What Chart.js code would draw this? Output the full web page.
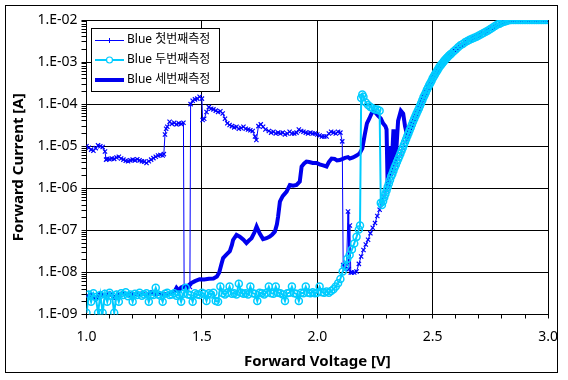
<!DOCTYPE html>
<html lang="ko">

<head>
    <meta charset="UTF-8">
    <title>Blue LED I-V</title>
    <script src="https://cdn.jsdelivr.net/npm/chart.js"></script>
    <style>
        body {
            margin: 0;
            background-color: #fff;
        }

        #wrap {
            width: 568px;
            height: 380px;
        }
    </style>
</head>

<body>
    <div id="wrap"><canvas id="ivChart" width="568" height="380"></canvas></div>

    <script>
        // 시리즈 이름
        const seriesNames = ['Blue 첫번째측정', 'Blue 두번째측정', 'Blue 세번째측정'];

        // 축 눈금 라벨
        const xMajorValues = [1.0, 1.5, 2.0, 2.5, 3.0];
        const xTickLabels = ['1.0', '1.5', '2.0', '2.5', '3.0'];
        const yDecades = [1e-9, 1e-8, 1e-7, 1e-6, 1e-5, 1e-4, 1e-3, 1e-2];
        const yTickLabels = ['1.E-09', '1.E-08', '1.E-07', '1.E-06', '1.E-05', '1.E-04', '1.E-03', '1.E-02'];

        // 첫번째 측정 (V, A)
        const s1V = [
            1.00, 1.01, 1.02, 1.03, 1.04, 1.05, 1.06, 1.07, 1.08, 1.085,
            1.09, 1.10, 1.11, 1.12, 1.13, 1.14, 1.15, 1.16, 1.17, 1.18,
            1.19, 1.20, 1.21, 1.22, 1.23, 1.24, 1.25, 1.26, 1.27, 1.28,
            1.29, 1.30, 1.31, 1.32, 1.33, 1.335, 1.34, 1.345, 1.35, 1.36,
            1.37, 1.38, 1.39, 1.40, 1.41, 1.42, 1.423, 1.435, 1.448, 1.451,
            1.46, 1.47, 1.48, 1.49, 1.50, 1.503, 1.51, 1.52, 1.53, 1.54,
            1.55, 1.56, 1.57, 1.58, 1.59, 1.60, 1.61, 1.62, 1.63, 1.64,
            1.65, 1.66, 1.67, 1.68, 1.69, 1.70, 1.71, 1.72, 1.73, 1.736,
            1.745, 1.755, 1.765, 1.775, 1.79, 1.80, 1.81, 1.82, 1.83, 1.84,
            1.85, 1.86, 1.87, 1.88, 1.89, 1.90, 1.91, 1.92, 1.93, 1.94,
            1.95, 1.96, 1.97, 1.98, 1.99, 2.00, 2.01, 2.02, 2.03, 2.04,
            2.05, 2.06, 2.07, 2.08, 2.09, 2.10, 2.108, 2.112, 2.12, 2.127,
            2.133, 2.136, 2.141, 2.145, 2.15, 2.16, 2.17, 2.18, 2.19, 2.20,
            2.21, 2.22, 2.23, 2.24, 2.25, 2.26, 2.27, 2.28, 2.29, 2.30,
            2.31, 2.32, 2.33, 2.34, 2.35, 2.36, 2.37, 2.38, 2.39, 2.40,
            2.41, 2.42, 2.43, 2.44, 2.45, 2.46, 2.47, 2.48, 2.49, 2.50,
            2.52, 2.54, 2.56, 2.58, 2.60, 2.62, 2.64, 2.66, 2.68, 2.70,
            2.72, 2.74, 2.76, 2.78, 2.80, 2.82, 2.84, 2.87, 2.90, 2.93,
            2.96, 2.99
        ];
        const s1I = [
            1.0e-5, 9.2e-6, 8.3e-6, 7.8e-6, 9.0e-6, 1.05e-5, 1.0e-5, 9.6e-6, 7.5e-6, 4.8e-6,
            5.0e-6, 4.9e-6, 5.1e-6, 5.0e-6, 5.4e-6, 5.6e-6, 5.1e-6, 4.8e-6, 4.5e-6, 4.4e-6,
            4.6e-6, 4.8e-6, 4.6e-6, 4.9e-6, 4.6e-6, 4.4e-6, 4.3e-6, 4.0e-6, 4.4e-6, 4.8e-6,
            5.2e-6, 5.6e-6, 6.0e-6, 6.2e-6, 6.0e-6, 6.5e-6, 1.9e-5, 2.6e-5, 2.9e-5, 3.8e-5,
            3.4e-5, 3.6e-5, 3.3e-5, 3.5e-5, 3.4e-5, 3.6e-5, 4.5e-9, 4.0e-9, 4.5e-9, 1.0e-4,
            1.2e-4, 1.3e-4, 1.35e-4, 1.5e-4, 1.35e-4, 4.2e-5, 4.5e-5, 6.5e-5, 8.5e-5, 7.8e-5,
            7.5e-5, 7.0e-5, 6.5e-5, 6.8e-5, 6.0e-5, 4.5e-5, 3.5e-5, 3.2e-5, 3.0e-5, 2.8e-5,
            2.9e-5, 2.6e-5, 2.7e-5, 2.9e-5, 2.6e-5, 2.5e-5, 2.4e-5, 2.3e-5, 1.7e-5, 1.4e-5,
            3.0e-5, 3.3e-5, 2.9e-5, 2.5e-5, 2.3e-5, 2.1e-5, 2.2e-5, 2.0e-5, 2.1e-5, 2.0e-5,
            2.1e-5, 1.9e-5, 2.0e-5, 2.2e-5, 2.0e-5, 2.0e-5, 2.1e-5, 2.5e-5, 2.3e-5, 2.2e-5,
            2.1e-5, 2.0e-5, 2.1e-5, 2.0e-5, 2.0e-5, 1.9e-5, 1.8e-5, 1.7e-5, 1.7e-5, 1.7e-5,
            2.0e-5, 2.2e-5, 2.1e-5, 2.0e-5, 2.2e-5, 2.1e-5, 1.3e-5, 1.5e-8, 1.2e-8, 1.6e-8,
            2.8e-7, 1.2e-8, 1.3e-7, 1.0e-8, 1.0e-8, 1.0e-8, 1.05e-8, 1.6e-8, 2.4e-8, 3.4e-8,
            4.6e-8, 6.0e-8, 8.5e-8, 1.15e-7, 1.5e-7, 2.2e-7, 3.1e-7, 4.5e-7, 6.2e-7, 8.9e-7,
            1.3e-6, 1.9e-6, 2.6e-6, 3.6e-6, 4.9e-6, 6.6e-6, 9.1e-6, 1.26e-5, 1.74e-5, 2.4e-5,
            3.3e-5, 4.5e-5, 6.0e-5, 7.9e-5, 1.07e-4, 1.45e-4, 1.9e-4, 2.5e-4, 3.2e-4, 4.1e-4,
            6.3e-4, 9.1e-4, 1.23e-3, 1.58e-3, 2.0e-3, 2.5e-3, 2.95e-3, 3.4e-3, 3.8e-3, 4.3e-3,
            4.9e-3, 5.6e-3, 6.6e-3, 7.8e-3, 8.7e-3, 9.5e-3, 1.0e-2, 1.0e-2, 1.0e-2, 1.0e-2,
            1.0e-2, 1.0e-2
        ];

        // 두번째 측정 (V, A)
        const s2V = [
            1.00, 1.01, 1.02, 1.03, 1.04, 1.05, 1.06, 1.07, 1.08, 1.09,
            1.10, 1.11, 1.12, 1.13, 1.14, 1.15, 1.16, 1.17, 1.18, 1.19,
            1.20, 1.21, 1.22, 1.23, 1.24, 1.25, 1.26, 1.27, 1.28, 1.29,
            1.30, 1.31, 1.32, 1.33, 1.34, 1.35, 1.36, 1.37, 1.38, 1.39,
            1.40, 1.41, 1.42, 1.43, 1.44, 1.45, 1.46, 1.47, 1.48, 1.49,
            1.50, 1.51, 1.52, 1.53, 1.54, 1.55, 1.56, 1.57, 1.58, 1.59,
            1.60, 1.61, 1.62, 1.63, 1.64, 1.65, 1.66, 1.67, 1.68, 1.69,
            1.70, 1.71, 1.72, 1.73, 1.74, 1.75, 1.76, 1.77, 1.78, 1.79,
            1.80, 1.81, 1.82, 1.83, 1.84, 1.85, 1.86, 1.87, 1.88, 1.89,
            1.90, 1.91, 1.92, 1.93, 1.94, 1.95, 1.96, 1.97, 1.98, 1.99,
            2.00, 2.01, 2.02, 2.03, 2.04, 2.05, 2.06, 2.07, 2.08, 2.09,
            2.10, 2.11, 2.12, 2.13, 2.14, 2.15, 2.16, 2.17, 2.18, 2.185,
            2.19, 2.195, 2.20, 2.21, 2.22, 2.23, 2.24, 2.25, 2.26, 2.27,
            2.275, 2.28, 2.285, 2.29, 2.295, 2.30, 2.305, 2.31, 2.315, 2.32,
            2.325, 2.33, 2.335, 2.34, 2.345, 2.35, 2.355, 2.36, 2.365, 2.37,
            2.375, 2.38, 2.385, 2.39, 2.395, 2.40, 2.405, 2.41, 2.415, 2.42,
            2.425, 2.43, 2.435, 2.44, 2.445, 2.45, 2.455, 2.46, 2.465, 2.47,
            2.475, 2.48, 2.485, 2.49, 2.495, 2.50, 2.505, 2.51, 2.515, 2.52,
            2.525, 2.53, 2.535, 2.54, 2.545, 2.55, 2.555, 2.56, 2.565, 2.57,
            2.575, 2.58, 2.59, 2.60, 2.61, 2.62, 2.63, 2.64, 2.65, 2.66,
            2.67, 2.68, 2.69, 2.70, 2.71, 2.72, 2.73, 2.74, 2.75, 2.76,
            2.77, 2.78, 2.79, 2.80, 2.81, 2.82, 2.83, 2.84, 2.85, 2.86,
            2.87, 2.88, 2.89, 2.90, 2.91, 2.92, 2.93, 2.94, 2.95, 2.96,
            2.97, 2.98, 2.99, 3.00
        ];
        const s2I = [
            1.1e-9, 3.0e-9, 2.0e-9, 3.2e-9, 2.6e-9, 1.1e-9, 2.9e-9, 1.1e-9, 3.1e-9, 2.0e-9,
            3.3e-9, 2.8e-9, 1.1e-9, 3.0e-9, 2.0e-9, 3.2e-9, 2.9e-9, 3.4e-9, 2.7e-9, 3.0e-9,
            2.0e-9, 3.1e-9, 2.9e-9, 3.3e-9, 2.8e-9, 3.0e-9, 3.2e-9, 2.0e-9, 3.0e-9, 2.9e-9,
            4.3e-9, 3.0e-9, 2.8e-9, 2.0e-9, 3.1e-9, 3.3e-9, 2.9e-9, 3.0e-9, 3.2e-9, 2.8e-9,
            3.0e-9, 2.0e-9, 3.1e-9, 4.3e-9, 3.0e-9, 2.9e-9, 2.0e-9, 3.2e-9, 3.0e-9, 2.9e-9,
            3.3e-9, 3.1e-9, 2.1e-9, 3.2e-9, 3.0e-9, 3.3e-9, 2.1e-9, 2.0e-9, 4.6e-9, 3.2e-9,
            3.0e-9, 3.3e-9, 4.6e-9, 3.1e-9, 3.2e-9, 3.0e-9, 5.4e-9, 3.3e-9, 3.1e-9, 3.2e-9,
            3.0e-9, 4.6e-9, 3.2e-9, 3.1e-9, 2.1e-9, 3.3e-9, 3.2e-9, 3.0e-9, 3.3e-9, 4.6e-9,
            3.2e-9, 3.1e-9, 4.6e-9, 3.3e-9, 3.2e-9, 3.0e-9, 2.1e-9, 3.2e-9, 3.3e-9, 4.6e-9,
            3.2e-9, 3.1e-9, 2.1e-9, 3.3e-9, 3.2e-9, 4.6e-9, 3.3e-9, 3.2e-9, 3.4e-9, 3.2e-9,
            3.3e-9, 4.6e-9, 3.4e-9, 3.3e-9, 3.5e-9, 3.3e-9, 3.6e-9, 4.0e-9, 4.6e-9, 5.5e-9,
            7.0e-9, 1.05e-8, 1.4e-8, 2.1e-8, 2.6e-8, 3.5e-8, 4.9e-8, 7.0e-8, 1.05e-7, 1.3e-7,
            1.4e-4, 1.7e-4, 1.5e-4, 1.1e-4, 9.5e-5, 8.5e-5, 8.0e-5, 7.5e-5, 7.5e-5, 7.0e-5,
            4.5e-7, 4.0e-7, 4.9e-7, 6.0e-7, 7.3e-7, 8.9e-7, 1.08e-6, 1.3e-6, 1.57e-6, 1.9e-6,
            2.2e-6, 2.6e-6, 3.1e-6, 3.6e-6, 4.2e-6, 4.9e-6, 5.7e-6, 6.6e-6, 7.8e-6, 9.1e-6,
            1.07e-5, 1.26e-5, 1.48e-5, 1.74e-5, 2.04e-5, 2.4e-5, 2.8e-5, 3.3e-5, 3.85e-5, 4.5e-5,
            5.2e-5, 6.0e-5, 6.9e-5, 7.9e-5, 9.2e-5, 1.07e-4, 1.24e-4, 1.45e-4, 1.66e-4, 1.9e-4,
            2.2e-4, 2.5e-4, 2.85e-4, 3.2e-4, 3.6e-4, 4.1e-4, 4.6e-4, 5.1e-4, 5.7e-4, 6.3e-4,
            7.0e-4, 7.8e-4, 8.4e-4, 9.1e-4, 9.9e-4, 1.07e-3, 1.15e-3, 1.23e-3, 1.32e-3, 1.41e-3,
            1.5e-3, 1.58e-3, 1.78e-3, 2.0e-3, 2.24e-3, 2.5e-3, 2.7e-3, 2.95e-3, 3.16e-3, 3.4e-3,
            3.6e-3, 3.8e-3, 4.0e-3, 4.3e-3, 4.6e-3, 4.9e-3, 5.25e-3, 5.6e-3, 6.1e-3, 6.6e-3,
            7.2e-3, 7.8e-3, 8.2e-3, 8.7e-3, 9.1e-3, 9.5e-3, 9.8e-3, 1.0e-2, 1.0e-2, 1.0e-2,
            1.0e-2, 1.0e-2, 1.0e-2, 1.0e-2, 1.0e-2, 1.0e-2, 1.0e-2, 1.0e-2, 1.0e-2, 1.0e-2,
            1.0e-2, 1.0e-2, 1.0e-2, 1.0e-2
        ];

        // 세번째 측정 (V, A)
        const s3V = [
            1.00, 1.02, 1.04, 1.06, 1.08, 1.10, 1.12, 1.14, 1.16, 1.18,
            1.20, 1.22, 1.24, 1.26, 1.28, 1.30, 1.32, 1.34, 1.36, 1.38,
            1.39, 1.40, 1.41, 1.42, 1.43, 1.44, 1.455, 1.47, 1.49, 1.51,
            1.53, 1.55, 1.565, 1.575, 1.585, 1.592, 1.605, 1.621, 1.63, 1.635,
            1.65, 1.664, 1.68, 1.693, 1.705, 1.715, 1.728, 1.737, 1.75, 1.765,
            1.78, 1.794, 1.805, 1.816, 1.825, 1.83, 1.838, 1.85, 1.867, 1.881,
            1.895, 1.91, 1.924, 1.932, 1.943, 1.953, 1.965, 1.98, 1.997, 2.01,
            2.025, 2.04, 2.05, 2.062, 2.075, 2.085, 2.097, 2.11, 2.12, 2.133,
            2.141, 2.155, 2.17, 2.184, 2.195, 2.205, 2.215, 2.225, 2.235, 2.245,
            2.255, 2.265, 2.275, 2.285, 2.295, 2.30, 2.305, 2.313, 2.32, 2.33,
            2.338, 2.35, 2.362, 2.372, 2.38, 2.39, 2.40, 2.42, 2.44, 2.46,
            2.48, 2.50, 2.53, 2.56, 2.60, 2.65, 2.70, 2.75, 2.80, 2.84,
            3.00
        ];
        const s3I = [
            2.6e-9, 3.0e-9, 2.3e-9, 3.1e-9, 2.7e-9, 3.2e-9, 2.5e-9, 3.0e-9, 3.3e-9, 2.9e-9,
            3.1e-9, 3.0e-9, 3.2e-9, 2.9e-9, 3.4e-9, 3.0e-9, 3.1e-9, 3.0e-9, 3.2e-9, 3.4e-9,
            4.3e-9, 3.7e-9, 4.4e-9, 4.6e-9, 4.2e-9, 4.8e-9, 5.6e-9, 6.2e-9, 6.9e-9, 6.8e-9,
            7.1e-9, 7.2e-9, 8.0e-9, 1.0e-8, 1.6e-8, 2.2e-8, 2.6e-8, 3.2e-8, 4.5e-8, 5.9e-8,
            7.8e-8, 7.1e-8, 6.0e-8, 5.0e-8, 5.8e-8, 6.5e-8, 9.0e-8, 1.23e-7, 8.5e-8, 6.2e-8,
            6.5e-8, 7.1e-8, 8.0e-8, 9.3e-8, 1.4e-7, 2.1e-7, 4.8e-7, 6.5e-7, 8.3e-7, 1.2e-6,
            1.15e-6, 1.2e-6, 1.45e-6, 3.3e-6, 3.9e-6, 4.3e-6, 4.2e-6, 4.0e-6, 4.0e-6, 3.7e-6,
            3.5e-6, 3.3e-6, 4.2e-6, 5.1e-6, 5.0e-6, 4.6e-6, 4.7e-6, 5.0e-6, 5.3e-6, 5.5e-6,
            5.1e-6, 5.4e-6, 6.0e-6, 6.8e-6, 8.9e-6, 1.8e-5, 3.5e-5, 4.5e-5, 6.0e-5, 7.0e-5,
            6.0e-5, 5.2e-5, 4.6e-5, 3.5e-5, 3.0e-5, 2.5e-5, 1.0e-6, 1.0e-5, 2.0e-6, 2.5e-5,
            3.5e-6, 4.0e-5, 7.0e-5, 6.0e-5, 3.0e-5, 1.74e-5, 2.4e-5, 4.5e-5, 7.9e-5, 1.45e-4,
            2.5e-4, 4.1e-4, 7.8e-4, 1.23e-3, 2.0e-3, 3.16e-3, 4.3e-3, 6.1e-3, 8.7e-3, 1.0e-2,
            1.0e-2
        ];

        const toPoints = (xs, ys) => xs.map((v, i) => ({ x: v, y: ys[i] }));
        const near = (a, b) => Math.abs(a - b) < 1e-9;
        const isDecade = v => Math.abs(Math.log10(v) - Math.round(Math.log10(v))) < 1e-6;

        // 보조 눈금: x는 0.1 V, y는 각 decade의 1~9배
        const xTicksAll = [];
        for (let k = 10; k <= 30; k++) xTicksAll.push(k / 10);
        const yTicksAll = [];
        yDecades.forEach((d, i) => {
            if (i === yDecades.length - 1) { yTicksAll.push(d); return; }
            for (let m = 1; m <= 9; m++) yTicksAll.push(m * d);
        });

        const FONT = "'Noto Sans', 'Noto Sans CJK KR', sans-serif";
        Chart.defaults.font.family = FONT;
        Chart.defaults.color = '#000';

        // 바깥 테두리 + 범례 박스
        const frameAndLegend = {
            id: 'frameAndLegend',
            beforeDraw(chart) {
                const ctx = chart.ctx;
                ctx.save();
                ctx.fillStyle = '#fff';
                ctx.fillRect(0, 0, chart.width, chart.height);
                ctx.strokeStyle = '#000';
                ctx.lineWidth = 1;
                ctx.strokeRect(5.5, 5.5, 552, 367);
                ctx.restore();
            },
            afterDatasetsDraw(chart) {
                const ctx = chart.ctx;
                ctx.save();
                ctx.fillStyle = '#fff';
                ctx.fillRect(92, 29, 127, 62);
                ctx.strokeStyle = '#000';
                ctx.lineWidth = 1;
                ctx.strokeRect(91.5, 28.5, 128, 63);
                chart.data.datasets.forEach((ds, i) => {
                    const y = 40 + i * 20 + (ds.borderWidth % 2 ? 0.5 : 0);
                    ctx.strokeStyle = ds.borderColor;
                    ctx.lineWidth = ds.borderWidth;
                    ctx.beginPath();
                    ctx.moveTo(95, y);
                    ctx.lineTo(124, y);
                    ctx.stroke();
                    if (ds.pointStyle === 'circle') {
                        ctx.fillStyle = '#fff';
                        ctx.lineWidth = 1.2;
                        ctx.beginPath();
                        ctx.arc(109.5, y, 3, 0, Math.PI * 2);
                        ctx.fill();
                        ctx.stroke();
                    } else if (ds.pointStyle === 'crossRot') {
                        ctx.lineWidth = 1;
                        ctx.beginPath();
                        ctx.moveTo(109.5, y - 2.5);
                        ctx.lineTo(109.5, y + 2.5);
                        ctx.stroke();
                    }
                    ctx.fillStyle = '#000';
                    ctx.font = '12px ' + FONT;
                    ctx.textBaseline = 'middle';
                    ctx.textAlign = 'left';
                    ctx.fillText(ds.label, 127, 40 + i * 20);
                });
                ctx.restore();
            }
        };

        new Chart(document.getElementById('ivChart'), {
            type: 'scatter',
            data: {
                datasets: [
                    {
                        label: seriesNames[0], data: toPoints(s1V, s1I), showLine: true,
                        borderColor: '#0000ff', borderWidth: 1, tension: 0,
                        pointStyle: 'crossRot', pointRadius: 3, pointBorderWidth: 1.2,
                        pointBorderColor: '#0000ff', pointBackgroundColor: '#0000ff', order: 1
                    },
                    {
                        label: seriesNames[1], data: toPoints(s2V, s2I), showLine: true,
                        borderColor: '#00ccff', borderWidth: 2, tension: 0,
                        pointStyle: 'circle', pointRadius: 3.5, pointBorderWidth: 1.5,
                        pointBorderColor: '#00ccff', pointBackgroundColor: 'rgba(0,0,0,0)', order: 0
                    },
                    {
                        label: seriesNames[2], data: toPoints(s3V, s3I), showLine: true,
                        borderColor: '#0000ee', borderWidth: 4, tension: 0,
                        pointRadius: 0, order: 2
                    }
                ]
            },
            options: {
                responsive: false,
                animation: false,
                devicePixelRatio: 1,
                layout: { padding: { top: 20, right: 19.5, left: 0, bottom: 0 } },
                plugins: { legend: { display: false }, tooltip: { enabled: false } },
                scales: {
                    x: {
                        type: 'linear', min: 1, max: 3,
                        afterBuildTicks: axis => { axis.ticks = xTicksAll.map(v => ({ value: v })); },
                        afterFit: axis => { axis.height = 65.5; },
                        border: { display: true, color: '#000', width: 1 },
                        grid: {
                            color: c => (c.tick && xMajorValues.some(m => near(m, c.tick.value))) ? '#000' : 'rgba(0,0,0,0)',
                            tickColor: '#000', tickLength: 4, lineWidth: 1
                        },
                        ticks: {
                            autoSkip: false, maxRotation: 0, padding: 10, font: { size: 14 }, color: '#000',
                            callback: v => {
                                const i = xMajorValues.findIndex(m => near(m, v));
                                return i >= 0 ? xTickLabels[i] : '';
                            }
                        },
                        title: {
                            display: true, text: 'Forward Voltage [V]', color: '#000',
                            font: { size: 15, weight: 'bold' }, padding: { top: 0, bottom: 9 }
                        }
                    },
                    y: {
                        type: 'logarithmic', min: 1e-9, max: 1e-2,
                        afterBuildTicks: axis => { axis.ticks = yTicksAll.map(v => ({ value: v })); },
                        afterFit: axis => { axis.width = 86.5; },
                        border: { display: true, color: '#000', width: 1 },
                        grid: {
                            color: c => (c.tick && isDecade(c.tick.value)) ? '#000' : 'rgba(0,0,0,0)',
                            tickColor: '#000', tickLength: 5, lineWidth: 1
                        },
                        ticks: {
                            autoSkip: false, padding: 4, font: { size: 14 }, color: '#000',
                            callback: v => {
                                const i = yDecades.findIndex(d => Math.abs(Math.log10(d) - Math.log10(v)) < 1e-6);
                                return i >= 0 ? yTickLabels[i] : '';
                            }
                        },
                        title: {
                            display: true, text: 'Forward Current [A]', color: '#000',
                            font: { size: 15, weight: 'bold' }, padding: { top: 10, bottom: 0 }
                        }
                    }
                }
            },
            plugins: [frameAndLegend]
        });
    </script>
</body>

</html>
